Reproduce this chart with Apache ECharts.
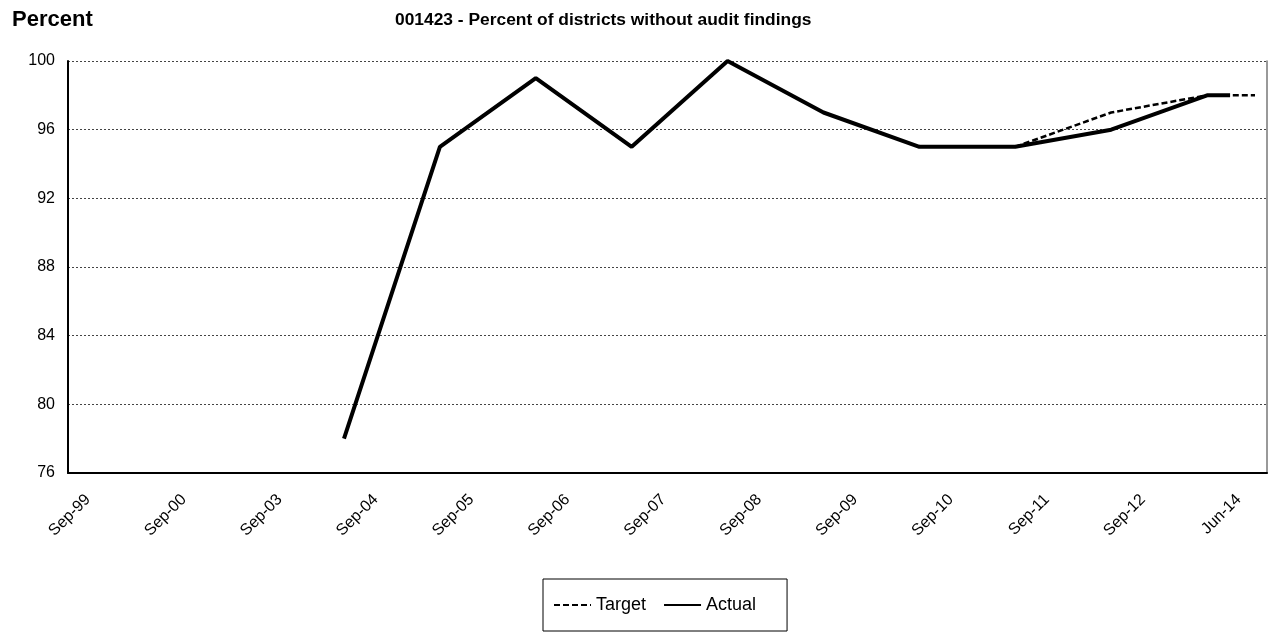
<!DOCTYPE html>
<html>
<head>
<meta charset="utf-8">
<script src="https://cdn.jsdelivr.net/npm/echarts@6/dist/echarts.min.js"></script>
<style>
html,body{margin:0;padding:0;background:#fff;}
#chart{width:1275px;height:635px;}
</style>
</head>
<body>
<div id="chart"></div>
<script>
// ---- data ----
const categories = ['Sep-99','Sep-00','Sep-03','Sep-04','Sep-05','Sep-06','Sep-07','Sep-08','Sep-09','Sep-10','Sep-11','Sep-12','Jun-14'];
const actualValues = [null,null,null,78,95,99,95,100,97,95,95,96,98];
const targetValues = [null,null,null,null,null,null,null,null,null,null,95,97,98];
// short flat run-out after the last period (in category units)
const actualTail = [12.24, 98];
const targetTail = [12.5, 98];
const yTicks = {min:76, max:100, step:4};

const FONT = '"Liberation Sans", Arial, sans-serif';

function toPairs(vals, tail){
  const out = [];
  vals.forEach((v,i)=>{ if (v!==null) out.push([i, v]); });
  out.push(tail);
  return out;
}

const chart = echarts.init(document.getElementById('chart'), null, {renderer:'canvas'});
const dataMin = 0.122, dataMax = 12.625, labelShift = 0.33;

chart.setOption({
  animation:false,
  backgroundColor:'#fff',
  textStyle:{fontFamily:FONT},
  title:[
    {text:'Percent', left:7, top:4, textStyle:{fontFamily:FONT, fontSize:22, fontWeight:'bold', color:'#000'}},
    {text:'001423 - Percent of districts without audit findings', left:390, top:7,
     textStyle:{fontFamily:FONT, fontSize:17.4, fontWeight:'bold', color:'#000'}}
  ],
  legend:{
    left:543, top:579,
    orient:'horizontal',
    padding:[17,31,17,10],
    itemGap:17,
    itemWidth:37, itemHeight:14,
    borderColor:'#000', borderWidth:1,
    itemStyle:{opacity:0, borderWidth:0},
    textStyle:{fontFamily:FONT, fontSize:18, color:'#000'},
    data:['Target','Actual']
  },
  grid:{left:68, right:8, top:61, bottom:162, containLabel:false},
  xAxis:[
    {type:'value', min:dataMin, max:dataMax, position:'bottom',
     axisLine:{show:true, onZero:false, lineStyle:{color:'#000', width:2}},
     axisTick:{show:false}, axisLabel:{show:false}, splitLine:{show:false}},
    {type:'value', min:dataMin-labelShift, max:dataMax-labelShift, minInterval:1, maxInterval:1, splitNumber:12, position:'bottom',
     axisLine:{show:false, onZero:false}, axisTick:{show:false}, splitLine:{show:false},
     axisLabel:{show:true, rotate:45, margin:24, fontSize:16, color:'#000', fontFamily:FONT,
       showMinLabel:true, showMaxLabel:true,
       formatter:function(v){ const r=Math.round(v); return (Math.abs(v-r)<1e-6 && categories[r]!==undefined) ? categories[r] : ''; }}}
  ],
  yAxis:[
    {type:'value', min:yTicks.min, max:yTicks.max, interval:yTicks.step,
     axisLine:{show:true, onZero:false, lineStyle:{color:'#000', width:2}},
     axisTick:{show:false},
     axisLabel:{fontSize:16, color:'#000', margin:13, fontFamily:FONT},
     splitLine:{show:true, lineStyle:{color:'#444', width:1, type:[2,2]}}},
    {type:'value', min:yTicks.min, max:yTicks.max, position:'right',
     axisLine:{show:true, onZero:false, lineStyle:{color:'#777', width:1.5}},
     axisTick:{show:false}, axisLabel:{show:false}, splitLine:{show:false}}
  ],
  series:[
    {name:'Target', type:'line', xAxisIndex:0, yAxisIndex:0, symbol:'none',
     lineStyle:{color:'#000', width:2.5, type:[6,3]}, itemStyle:{color:'#000'},
     data:toPairs(targetValues, targetTail), z:2},
    {name:'Actual', type:'line', xAxisIndex:0, yAxisIndex:0, symbol:'none',
     lineStyle:{color:'#000', width:4, type:'solid'}, itemStyle:{color:'#000'},
     data:toPairs(actualValues, actualTail), z:3}
  ]
});
</script>
</body>
</html>
